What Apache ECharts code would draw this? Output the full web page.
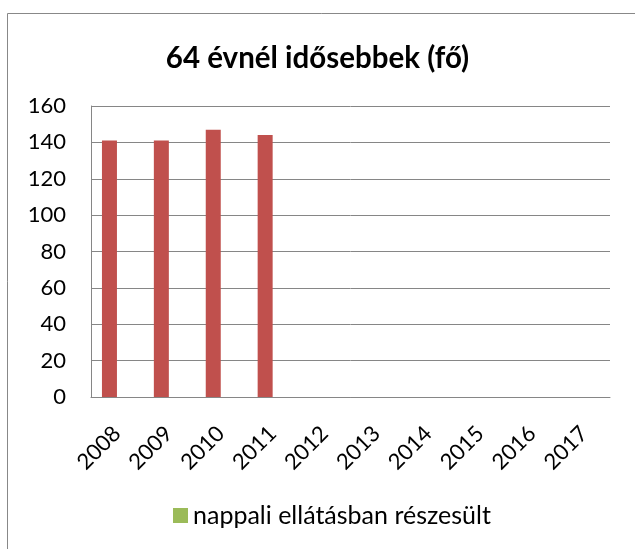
<!DOCTYPE html>
<html><head><meta charset="utf-8">
<script src="https://cdn.jsdelivr.net/npm/echarts@6/dist/echarts.min.js"></script>
<style>html,body{margin:0;padding:0;background:#fff}#c{width:635px;height:549px}</style>
</head><body><div id="c"></div>
<script>
const categories = ['2008','2009','2010','2011','2012','2013','2014','2015','2016','2017'];
const redValues = [141, 141, 147, 144, null, null, null, null, null, null];
const greenValues = [null, null, null, null, null, null, null, null, null, null];
const yTicks = [0, 20, 40, 60, 80, 100, 120, 140, 160];
const titleText = '64 évnél idősebbek (fő)';
const legendName = 'nappali ellátásban részesült';

const chart = echarts.init(document.getElementById('c'), null, {renderer:'canvas'});
const FONT = 'Lato, "Open Sans", sans-serif';
chart.setOption({
  animation: false,
  backgroundColor: '#fff',
  graphic: [{type:'rect', shape:{x:7.5,y:13.5,width:700,height:600}, style:{fill:'none', stroke:'#888', lineWidth:1}, silent:true}],
  title: {text: titleText, left: 'center', top: 38, textStyle:{fontFamily:FONT, fontSize:29.5, fontWeight:'bold', color:'#000'}},
  legend: {data:[legendName], top: 498, left: 168, icon:'rect', itemWidth:15, itemHeight:15, itemGap:6,
    textStyle:{fontFamily:FONT, fontSize:25, color:'#000'}},
  grid: {left: 91, right: 25, top: 106, bottom: 152, containLabel:false},
  xAxis: {type:'category', data: categories,
    axisLine:{lineStyle:{color:'#868686'}}, axisTick:{show:false},
    axisLabel:{rotate:45, fontFamily:FONT, fontSize:22, color:'#000', margin:33, interval:0}},
  yAxis: {type:'value', min: yTicks[0], max: yTicks[yTicks.length-1], interval: 20,
    axisLine:{show:true, lineStyle:{color:'#868686'}}, axisTick:{show:false},
    splitLine:{lineStyle:{color:'#868686'}},
    axisLabel:{fontFamily:FONT, fontSize:22, color:'#000', margin:25}},
  series: [
    {name:'red', type:'bar', data: redValues, barWidth:15, barGap:'0%', itemStyle:{color:'#C0504D'}},
    {name: legendName, type:'bar', data: greenValues, barWidth:15, itemStyle:{color:'#9BBB59'}}
  ]
});
</script></body></html>
